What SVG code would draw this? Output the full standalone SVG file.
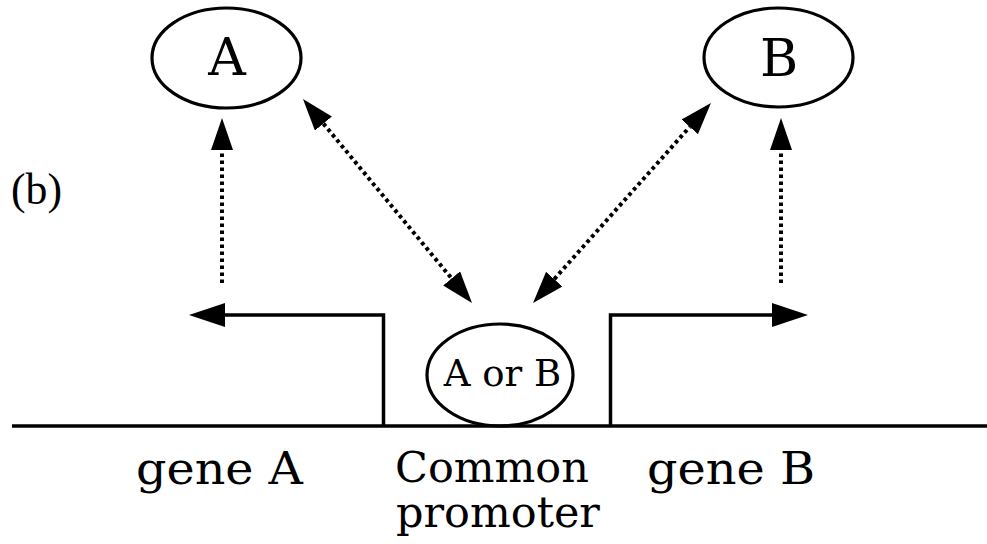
<svg xmlns="http://www.w3.org/2000/svg" width="987" height="544" viewBox="0 0 987 544">
<style>
.node{fill:none;stroke:#000;stroke-width:3.2}
.t{font-family:"DejaVu Serif",serif;fill:#000}
.solid{fill:none;stroke:#000;stroke-width:3.5}
.dot{fill:none;stroke:#000;stroke-width:4;stroke-dasharray:3.6 3.4}
</style>
<defs>
<marker id="hd" viewBox="0 0 32 22" markerWidth="32" markerHeight="22" refX="0" refY="11" orient="auto-start-reverse" markerUnits="userSpaceOnUse">
<path d="M0,0 L32,11 L0,22 z" fill="#000"/>
</marker>
<marker id="hs" viewBox="0 0 36 24" markerWidth="36" markerHeight="24" refX="0" refY="12" orient="auto-start-reverse" markerUnits="userSpaceOnUse">
<path d="M0,0 L36,12 L0,24 z" fill="#000"/>
</marker>
</defs>
<rect width="987" height="544" fill="#fff"/>
<text x="11" y="204" style="font-family:'Liberation Serif',serif" font-size="44" textLength="51" lengthAdjust="spacingAndGlyphs">(b)</text>
<g id="connectors">
<line class="solid" x1="12" y1="426" x2="987" y2="426"/>
<polyline class="solid" points="383.5,426 383.5,315 225,315" marker-end="url(#hs)"/>
<polyline class="solid" points="610.5,426 610.5,315 772,315" marker-end="url(#hs)"/>
<line class="dot" x1="222" y1="283" x2="222" y2="150" marker-end="url(#hd)"/>
<line class="dot" x1="781" y1="283" x2="781" y2="150" marker-end="url(#hd)"/>
<line class="dot" x1="323.4" y1="123.6" x2="451.6" y2="278.4" marker-start="url(#hd)" marker-end="url(#hd)"/>
<line class="dot" x1="554.3" y1="279.1" x2="689.7" y2="126.9" marker-start="url(#hd)" marker-end="url(#hd)"/>
</g>
<g id="nodeA">
<ellipse class="node" cx="226.5" cy="58" rx="74.5" ry="50"/>
<text class="t" x="227" y="75" font-size="52" text-anchor="middle">A</text>
</g>
<g id="nodeB">
<ellipse class="node" cx="778.5" cy="57.5" rx="74.5" ry="49.5"/>
<text class="t" x="779" y="76" font-size="52" text-anchor="middle">B</text>
</g>
<g id="nodeAorB">
<ellipse class="node" cx="500" cy="375" rx="73" ry="51"/>
<text class="t" x="502.5" y="386" font-size="37" text-anchor="middle">A or B</text>
</g>
<g id="geneA">
<text class="t" x="136" y="484" font-size="45" textLength="167" lengthAdjust="spacingAndGlyphs">gene A</text>
</g>
<g id="geneB">
<text class="t" x="647" y="484" font-size="45" textLength="168" lengthAdjust="spacingAndGlyphs">gene B</text>
</g>
<g id="promoter">
<text class="t" x="395" y="482" font-size="43">Common</text>
<text class="t" x="396" y="527" font-size="43">promoter</text>
</g>
</svg>
